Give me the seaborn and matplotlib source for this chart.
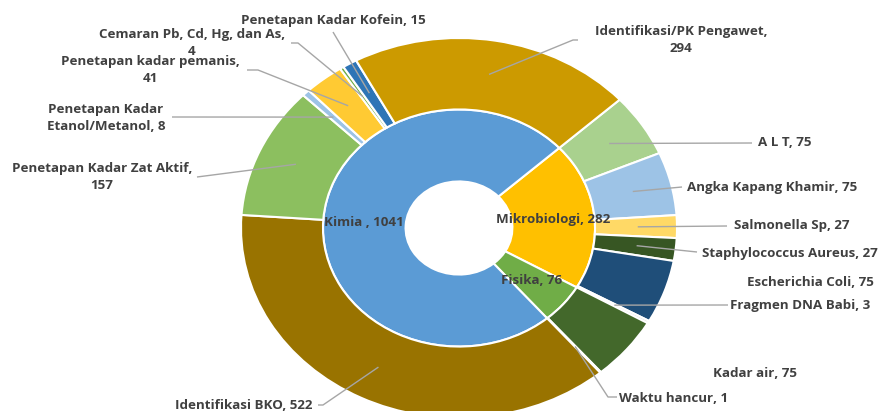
import matplotlib
matplotlib.use("Agg")
import matplotlib.pyplot as plt
import seaborn as sns
import numpy as np

# inner ring: lab groups (drawing order, clockwise)
group_names = ["Mikrobiologi", "Fisika", "Kimia "]
group_values = [282, 76, 1041]

# outer ring: test types (drawing order, clockwise)
test_names = ["A L T", "Angka Kapang Khamir", "Salmonella Sp", "Staphylococcus Aureus",
              "Escherichia Coli", "Fragmen DNA Babi", "Kadar air", "Waktu hancur",
              "Identifikasi BKO", "Penetapan Kadar Zat Aktif", "Penetapan Kadar\nEtanol/Metanol",
              "Penetapan kadar pemanis", "Cemaran Pb, Cd, Hg, dan As", "Penetapan Kadar Kofein",
              "Identifikasi/PK Pengawet"]
test_values = [75, 75, 27, 27, 75, 3, 75, 1, 522, 157, 8, 41, 4, 15, 294]

# labels whose value goes on its own line
value_on_new_line = ["Penetapan Kadar Zat Aktif", "Penetapan kadar pemanis",
                     "Cemaran Pb, Cd, Hg, dan As", "Identifikasi/PK Pengawet"]

group_colors = ["#FFC000", "#70AD47", "#5B9BD5"]
test_colors = ["#A9D18E", "#9DC3E6", "#FFD966", "#375623", "#1F4E79", "#D9D9D9",
               "#43682B", "#A9D18E", "#997300", "#8CBF5F", "#9DC3E6", "#FFCA33",
               "#70AD47", "#2E75B6", "#CC9A00"]

# label layout in pixel coords (from top-left): text centre, leader start, optional elbow
label_pos = {
    0: ((785, 143), (752, 143), None),
    1: ((772, 188), (682, 187), None),
    2: ((792, 226), (727, 226), None),
    3: ((790, 253), (697, 252), None),
    4: ((810, 282), None, None),
    5: ((800, 306), (728, 305), None),
    6: ((755, 373), None, None),
    7: ((674, 398), (617, 397), (608, 397)),
    8: ((244, 405), (318, 405), (323, 405)),
    9: ((102, 177), (197, 177), None),
    10: ((106, 118), (172, 117), None),
    11: ((150, 70), (247, 70), (258, 70)),
    12: ((192, 43), (291, 43), (298, 43)),
    13: ((333, 21), (333, 32), None),
    14: ((681, 40), (578, 40), (573, 40)),
}

W, H = 880, 411
CX, CY = 459, 228      # pie centre in pixels
RX, RY = 218, 190      # outer radius in pixels (chart is stretched)


def px(p):
    return ((p[0] - CX) / RX, (CY - p[1]) / RY)


sns.set_theme(style="white")
plt.rcParams['font.family'] = ['Open Sans', 'DejaVu Sans']
text_color = "#404040"
line_color = "#A6A6A6"

fig = plt.figure(figsize=(W / 100, H / 100), dpi=100)
ax = fig.add_axes([0, 0, 1, 1])

start = 90 - 47.5
inner, _ = ax.pie(group_values, radius=0.624, colors=group_colors, startangle=start,
                  counterclock=False,
                  wedgeprops=dict(width=0.379, edgecolor="white", linewidth=1.5))
outer, _ = ax.pie(test_values, radius=1.0, colors=test_colors, startangle=start,
                  counterclock=False,
                  wedgeprops=dict(width=0.376, edgecolor="white", linewidth=1.5))

ax.set_aspect('auto')
ax.set_xlim(-CX / RX, (W - CX) / RX)
ax.set_ylim((CY - H) / RY, CY / RY)
ax.axis('off')

font = dict(fontsize=9.6, fontweight='bold', color=text_color)

# inner labels at wedge centres
for w, name, val in zip(inner, group_names, group_values):
    th = np.deg2rad((w.theta1 + w.theta2) / 2)
    r = 0.435
    ax.text(r * np.cos(th), r * np.sin(th), f"{name}, {val}", ha='center', va='center', **font)

# outer labels with leader lines
for i, (w, name, val) in enumerate(zip(outer, test_names, test_values)):
    sep = ",\n" if name in value_on_new_line else ", "
    txt_p, start_p, elbow_p = label_pos[i]
    tx, ty = px(txt_p)
    ax.text(tx, ty, f"{name}{sep}{val}", ha='center', va='center',
            multialignment='center', linespacing=1.45, **font)
    if start_p is None:
        continue
    th = np.deg2rad((w.theta1 + w.theta2) / 2)
    end = (0.82 * np.cos(th), 0.82 * np.sin(th))
    pts = [px(start_p)]
    if elbow_p is not None:
        pts.append(px(elbow_p))
    pts.append(end)
    xs, ys = zip(*pts)
    ax.plot(xs, ys, color=line_color, lw=1, solid_capstyle='butt')

fig.savefig("out.png", dpi=100)
